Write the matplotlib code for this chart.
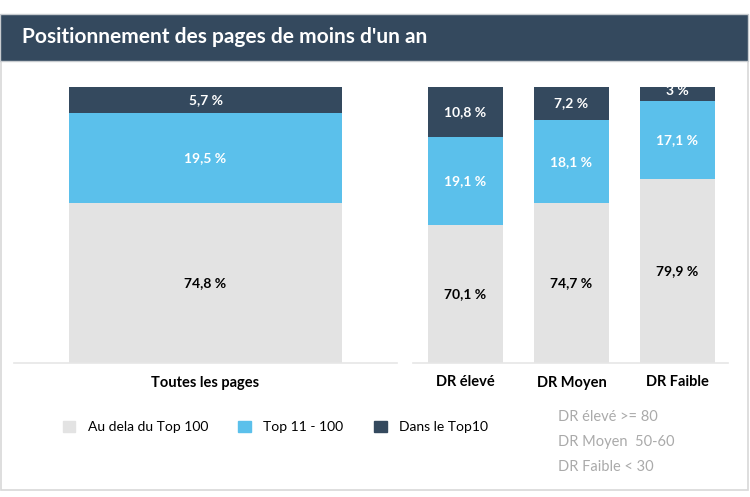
import matplotlib.pyplot as plt
from matplotlib.patches import Rectangle, Patch

plt.rcParams['font.family'] = ['Lato', 'DejaVu Sans']

# données
all_label = ["Toutes les pages"]
all_beyond = [74.8]
all_top100 = [19.5]
all_top10 = [5.7]

dr_labels = ["DR élevé", "DR Moyen", "DR Faible"]
dr_beyond = [70.1, 74.7, 79.9]
dr_top100 = [19.1, 18.1, 17.1]
dr_top10 = [10.8, 7.2, 3]

legend_labels = ["Au dela du Top 100", "Top 11 - 100", "Dans le Top10"]
notes = ["DR élevé >= 80", "DR Moyen  50-60", "DR Faible < 30"]

c_gray = "#e3e3e3"
c_blue = "#5bc0eb"
c_dark = "#34495e"

Y0 = 40  # l'axe y commence à 40 %

W, H = 750, 497
fig = plt.figure(figsize=(7.5, 4.97), dpi=100)


def fx(px):
    return px / W


def fy(py):
    return 1 - py / H


# cadre + bandeau titre
fig.patches.append(Rectangle((fx(1), fy(490)), fx(747), (490 - 61) / H, transform=fig.transFigure,
                             facecolor="none", edgecolor="#d8d8d8", lw=1.2, zorder=0))
fig.patches.append(Rectangle((0, fy(61)), fx(748), 47 / H, transform=fig.transFigure,
                             facecolor=c_dark, edgecolor="#c8ccd0", lw=1, zorder=1))
fig.text(fx(22), fy(37), "Positionnement des pages de moins d'un an", color="white",
         fontsize=15, fontweight="bold", va="center", ha="left")


def fmt(v):
    return ("%g" % v).replace(".", ",") + " %"


def draw(ax, labels, beyond, top100, top10, width):
    x = list(range(len(labels)))
    ax.bar(x, beyond, width, color=c_gray)
    ax.bar(x, top100, width, bottom=beyond, color=c_blue)
    b3 = [a + b for a, b in zip(beyond, top100)]
    ax.bar(x, top10, width, bottom=b3, color=c_dark)
    for i in x:
        ax.text(i, (Y0 + beyond[i]) / 2, fmt(beyond[i]), ha="center", va="center",
                fontsize=10, fontweight="bold", color="black")
        ax.text(i, beyond[i] + top100[i] / 2, fmt(top100[i]), ha="center", va="center",
                fontsize=10, fontweight="bold", color="white")
        ax.text(i, b3[i] + top10[i] / 2 + (0.6 if top10[i] < 4 else 0), fmt(top10[i]),
                ha="center", va="center", fontsize=10, fontweight="bold", color="white")
    ax.set_ylim(Y0, 100)
    ax.set_yticks([])
    ax.set_xticks(x)
    ax.set_xticklabels(labels, fontsize=10.5, fontweight="bold")
    ax.tick_params(axis="x", length=0, pad=9)
    for s in ["top", "left", "right"]:
        ax.spines[s].set_visible(False)
    ax.spines["bottom"].set_color("#e6e6e6")
    ax.spines["bottom"].set_linewidth(1.2)
    ax.set_facecolor("none")
    ax.set_zorder(3)


bot = (H - 363) / H
hgt = 276 / H

ax1 = fig.add_axes([fx(14), bot, fx(383), hgt])
draw(ax1, all_label, all_beyond, all_top100, all_top10, 273 / 383)
ax1.set_xlim(-0.5, 0.5)

ax2 = fig.add_axes([fx(413), bot, fx(315), hgt])
draw(ax2, dr_labels, dr_beyond, dr_top100, dr_top10, 75 / 106)
ax2.set_xlim(-52.5 / 106, (315 - 52.5) / 106)

handles = [Patch(color=c) for c in [c_gray, c_blue, c_dark]]
fig.legend(handles, legend_labels, loc="center left", bbox_to_anchor=(fx(50), fy(427)),
           ncol=3, frameon=False, fontsize=10, handlelength=0.9, handleheight=0.9,
           columnspacing=2.2, handletextpad=0.9)

for i, t in enumerate(notes):
    fig.text(fx(558), fy(417 + 25 * i), t, color="#aaaaaa", fontsize=10.5, va="center", ha="left")

fig.savefig("out.png", dpi=100)
